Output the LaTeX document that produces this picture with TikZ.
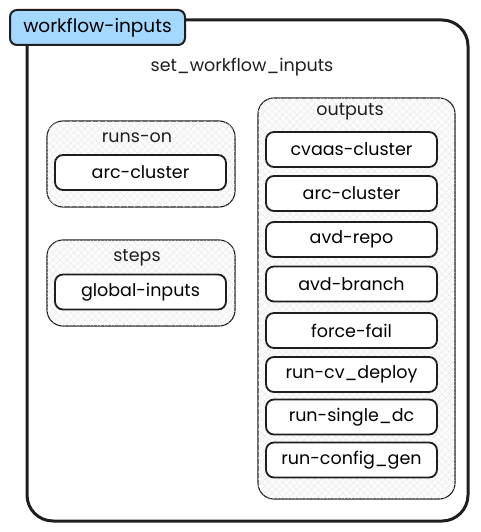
\documentclass[tikz,border=0pt]{standalone}
\usepackage{fontspec}
\setmainfont{Poppins}
\usetikzlibrary{patterns.meta}
\definecolor{tagblue}{HTML}{A5D8FF}
\definecolor{ink}{HTML}{1E1E1E}
\tikzset{
  outerbox/.style={draw=ink, line width=3pt, rounded corners=26pt},
  tagbox/.style={draw=ink, line width=2pt, fill=tagblue, rounded corners=7pt, minimum width=175pt, minimum height=35pt, font=\fontsize{18.5}{22}\selectfont},
  groupbox/.style={draw=ink, line width=1.1pt, fill=gray!3, rounded corners=16pt,
    postaction={pattern={Lines[angle=45,distance=5pt,line width=0.3pt]}, pattern color=gray!18},
    postaction={pattern={Lines[angle=-45,distance=5pt,line width=0.3pt]}, pattern color=gray!18}},
  itembox/.style={draw=ink, line width=1.8pt, fill=white, rounded corners=8pt, minimum width=171pt, minimum height=35pt, font=\fontsize{17.5}{20}\selectfont},
  lbl/.style={font=\fontsize{17.5}{20}\selectfont, text=ink},
}
\begin{document}
\begin{tikzpicture}[x=1pt,y=-1pt]
\useasboundingbox (0,0) rectangle (481,532);
% outer container
\draw[outerbox] (27,20) rectangle (468,521);
\node[tagbox] (tag) at (97.5,27.5) {workflow-inputs};
\node[lbl] (job) at (242,67) {set\_workflow\_inputs};
% runs-on group
\draw[groupbox] (47,121) rectangle (235,207);
\node[lbl] (runson) at (137,138) {runs-on};
\node[itembox] (arc1) at (140.5,172.5) {arc-cluster};
% steps group
\draw[groupbox] (47,240) rectangle (235,326);
\node[lbl] (steps) at (137,258) {steps};
\node[itembox] (glob) at (140.5,292) {global-inputs};
% outputs group
\draw[groupbox] (258,98) rectangle (455,499);
\node[lbl] (outputs) at (350,112) {outputs};
\node[itembox] (o1) at (351.5,149.5) {cvaas-cluster};
\node[itembox] (o2) at (351.5,193.5) {arc-cluster};
\node[itembox] (o3) at (351.5,239.5) {avd-repo};
\node[itembox] (o4) at (351.5,284) {avd-branch};
\node[itembox] (o5) at (351.5,330.5) {force-fail};
\node[itembox] (o6) at (351.5,374.5) {run-cv\_deploy};
\node[itembox] (o7) at (351.5,417) {run-single\_dc};
\node[itembox] (o8) at (351.5,460) {run-config\_gen};
\end{tikzpicture}
\end{document}
